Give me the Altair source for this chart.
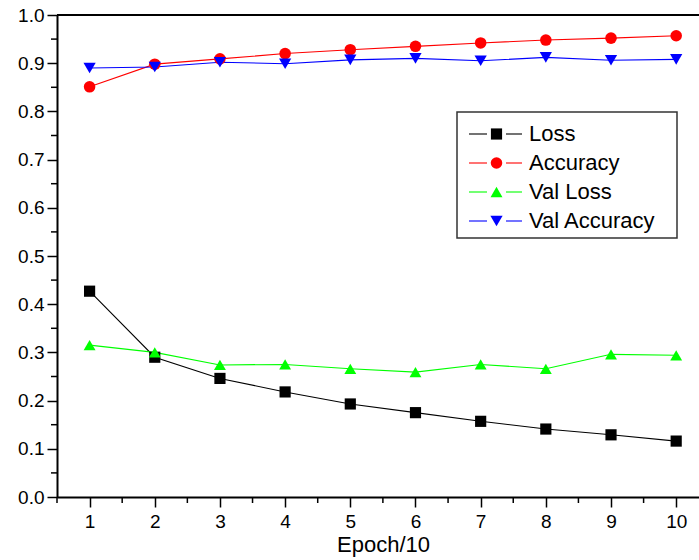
import altair as alt
import pandas as pd

# Training history, one value per 10 epochs
epochs = [1, 2, 3, 4, 5, 6, 7, 8, 9, 10]
loss = [0.427, 0.290, 0.246, 0.218, 0.193, 0.175, 0.157, 0.141, 0.129, 0.116]
accuracy = [0.851, 0.898, 0.909, 0.920, 0.928, 0.935, 0.942, 0.948, 0.952, 0.957]
val_loss = [0.315, 0.300, 0.274, 0.275, 0.266, 0.259, 0.275, 0.266, 0.296, 0.294]
val_accuracy = [0.890, 0.892, 0.902, 0.899, 0.907, 0.910, 0.905, 0.912, 0.906, 0.908]

series_names = ["Loss", "Accuracy", "Val Loss", "Val Accuracy"]
series_colors = ["#000000", "#ff0000", "#00ff00", "#0000ff"]
series_shapes = ["square", "circle", "triangle-up", "triangle-down"]
series_sizes = [125, 150, 240, 240]
legend_sizes = [100, 110, 160, 160]

y_major = [round(0.1 * i, 1) for i in range(11)]
y_minor = [round(0.05 + 0.1 * i, 2) for i in range(10)]
x_major = epochs
x_minor = [0.5 + i for i in range(10)]

FONT = "Liberation Sans"
W, H = 642, 482

rows = []
for name, vals in zip(series_names, [loss, accuracy, val_loss, val_accuracy]):
    for e, v in zip(epochs, vals):
        rows.append({"epoch": e, "value": v, "series": name})
df = pd.DataFrame(rows)

color_scale = alt.Scale(domain=series_names, range=series_colors)
shape_scale = alt.Scale(domain=series_names, range=series_shapes)
size_scale = alt.Scale(domain=series_names, range=series_sizes)

x_enc = alt.X(
    "epoch:Q",
    scale=alt.Scale(domain=[0.5, 10.35], nice=False, zero=False),
    axis=alt.Axis(
        values=x_major, format="d", title="Epoch/10", grid=False, tickSize=10, tickWidth=1.5,
        domainWidth=2, domainColor="black", tickColor="black",
        labelFontSize=19, labelColor="black", labelFont=FONT, labelPadding=5,
        titleFontSize=22, titleFont=FONT, titleFontWeight="normal", titleColor="black",
        titleX=326, titleY=54, titleBaseline="alphabetic", titleAlign="center",
    ),
)
y_enc = alt.Y(
    "value:Q",
    scale=alt.Scale(domain=[0, 1], nice=False, zero=False),
    axis=alt.Axis(
        values=y_major, format=".1f", title=None, grid=False, tickSize=10, tickWidth=1.5,
        domainWidth=2, domainColor="black", tickColor="black",
        labelFontSize=19, labelColor="black", labelFont=FONT, labelPadding=3,
    ),
)

base = alt.Chart(df)
lines = base.mark_line(strokeWidth=1.1).encode(
    x=x_enc, y=y_enc,
    color=alt.Color("series:N", scale=color_scale, legend=None),
    detail="series:N",
)
points = base.mark_point(filled=True, opacity=1, strokeWidth=0).encode(
    x="epoch:Q", y="value:Q",
    color=alt.Color("series:N", scale=color_scale, legend=None),
    shape=alt.Shape("series:N", scale=shape_scale, legend=None),
    size=alt.Size("series:N", scale=size_scale, legend=None),
)

# minor ticks on both axes
y_minor_ticks = alt.Chart(pd.DataFrame({"v": y_minor})).mark_rule(
    color="black", strokeWidth=1.5
).encode(y="v:Q", x=alt.value(-6), x2=alt.value(0))
x_minor_ticks = alt.Chart(pd.DataFrame({"v": x_minor})).mark_rule(
    color="black", strokeWidth=1.5
).encode(x="v:Q", y=alt.value(H), y2=alt.value(H + 6))

one = pd.DataFrame({"k": [0]})
top_border = alt.Chart(one).mark_rule(color="black", strokeWidth=2).encode(
    x=alt.value(0), x2=alt.value(W + 10), y=alt.value(0)
)

# legend box with line-and-marker keys
leg_df = pd.DataFrame({"series": series_names, "row": list(range(len(series_names)))})
leg = alt.Chart(leg_df).transform_calculate(ly="119 + 29 * datum.row")
leg_box = alt.Chart(one).mark_rect(
    fill="white", stroke="#333333", strokeWidth=1.5
).encode(x=alt.value(400), x2=alt.value(620), y=alt.value(97), y2=alt.value(223))
leg_color = alt.Color("series:N", scale=color_scale, legend=None)
leg_lines_l = leg.mark_rule(strokeWidth=1.1).encode(
    y=alt.Y("ly:Q", scale=None), x=alt.value(412), x2=alt.value(430), color=leg_color,
)
leg_lines_r = leg.mark_rule(strokeWidth=1.1).encode(
    y=alt.Y("ly:Q", scale=None), x=alt.value(449), x2=alt.value(465), color=leg_color,
)
leg_points = leg.mark_point(filled=True, opacity=1, strokeWidth=0).encode(
    y=alt.Y("ly:Q", scale=None), x=alt.value(439.5),
    color=leg_color,
    shape=alt.Shape("series:N", scale=shape_scale, legend=None),
    size=alt.Size("series:N", scale=alt.Scale(domain=series_names, range=legend_sizes), legend=None),
)
leg_text = leg.mark_text(
    align="left", baseline="middle", fontSize=22, font=FONT, color="black"
).encode(y=alt.Y("ly:Q", scale=None), x=alt.value(472), text="series:N")

chart = alt.layer(
    lines, points, y_minor_ticks, x_minor_ticks, top_border,
    leg_box, leg_lines_l, leg_lines_r, leg_points, leg_text,
).properties(
    width=W, height=H,
    autosize=alt.AutoSizeParams(type="none"),
    padding={"left": 57, "top": 15, "right": 0, "bottom": 63},
).configure_view(stroke=None).configure(background="white")

chart.save("out.html", embed_options={"renderer": "svg", "actions": False})
